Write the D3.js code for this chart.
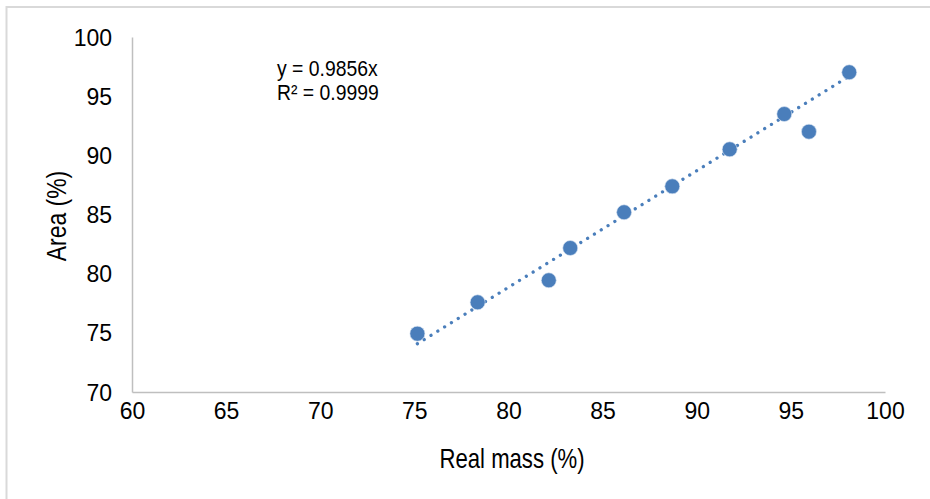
<!DOCTYPE html>
<html>
<head>
<meta charset="utf-8">
<script src="https://cdn.jsdelivr.net/npm/d3@7"></script>
<style>
  html, body { margin: 0; padding: 0; background: #fff; }
  svg { display: block; }
  text { font-family: "Liberation Sans", Arial, sans-serif; fill: #000; }
</style>
</head>
<body>
<svg id="chart" width="930" height="499"></svg>
<script>
// Measured samples: real mass vs. area, both in percent
const realMass = [75.16, 78.36, 82.14, 83.28, 86.14, 88.70, 91.75, 94.65, 95.96, 98.10];
const area     = [74.93, 77.58, 79.44, 82.17, 85.19, 87.38, 90.51, 93.49, 92.00, 97.02];

// Axis ticks and labels
const xTicks = [60, 65, 70, 75, 80, 85, 90, 95, 100];
const yTicks = [70, 75, 80, 85, 90, 95, 100];
const xTitle = "Real mass (%)";
const yTitle = "Area (%)";

// Linear fit through the origin
const slope = 0.9856;
const rSquared = "0.9999";

const svg = d3.select("#chart");
const W = 930, H = 499;
const plot = { left: 132, right: 885, top: 37, bottom: 392 };

// Chart frame
svg.append("rect")
  .attr("x", 6.5).attr("y", 7)
  .attr("width", W + 10).attr("height", H + 10)
  .attr("fill", "none")
  .attr("stroke", "#d9d9d9")
  .attr("stroke-width", 2);

const x = d3.scaleLinear().domain([60, 100]).range([plot.left, plot.right]);
const y = d3.scaleLinear().domain([70, 100]).range([plot.bottom, plot.top]);

// Axes: no tick marks, grey axis lines
const xAxis = d3.axisBottom(x).tickValues(xTicks).tickSize(0).tickPadding(0).tickFormat(d3.format("d"));
const yAxis = d3.axisLeft(y).tickValues(yTicks).tickSize(0).tickPadding(0).tickFormat(d3.format("d"));

const gx = svg.append("g").attr("transform", `translate(0,${plot.bottom})`).call(xAxis);
gx.select(".domain").attr("stroke", "#bfbfbf").attr("stroke-width", 1.5);
gx.selectAll("text")
  .attr("dy", null).attr("y", 27)
  .style("font-size", "23px")
  .style("font-family", null);

const gy = svg.append("g").attr("transform", `translate(${plot.left},0)`).call(yAxis);
gy.select(".domain").attr("stroke", "#bfbfbf").attr("stroke-width", 1.5);
gy.selectAll("text")
  .attr("x", -20).attr("dy", "0.35em")
  .style("font-size", "23px")
  .style("font-family", null);

svg.selectAll(".tick text").attr("fill", "#000");

// Axis titles (slightly condensed)
svg.append("text")
  .attr("transform", "translate(512,468) scale(0.82,1)")
  .attr("text-anchor", "middle")
  .style("font-size", "27px")
  .text(xTitle);

svg.append("text")
  .attr("transform", "translate(66,216) rotate(-90) scale(0.85,1)")
  .attr("text-anchor", "middle")
  .style("font-size", "27px")
  .text(yTitle);

// Dotted trend line spanning the data range
const xMin = d3.min(realMass), xMax = d3.max(realMass);
const fit = [xMin, xMax].map(v => [v, slope * v]);
svg.append("path")
  .datum(fit)
  .attr("d", d3.line().x(d => x(d[0])).y(d => y(d[1])))
  .attr("fill", "none")
  .attr("stroke", "#4a7ebb")
  .attr("stroke-width", 3.3)
  .attr("stroke-linecap", "round")
  .attr("stroke-dasharray", "0.01 8");

// Data points
const pts = realMass.map((v, i) => ({ x: v, y: area[i] }));
svg.append("g").selectAll("circle")
  .data(pts)
  .join("circle")
  .attr("cx", d => x(d.x))
  .attr("cy", d => y(d.y))
  .attr("r", 7.5)
  .attr("fill", "#4a7ebb")
  .attr("stroke", "#dbe6f3")
  .attr("stroke-width", 0.6);

// Regression equation label
const eq = svg.append("g").attr("transform", "translate(277,0) scale(0.88,1)");
eq.append("text").attr("x", 0).attr("y", 76).style("font-size", "22px").text(`y = ${slope}x`);
eq.append("text").attr("x", 0).attr("y", 100).style("font-size", "22px").text(`R² = ${rSquared}`);
</script>
</body>
</html>
